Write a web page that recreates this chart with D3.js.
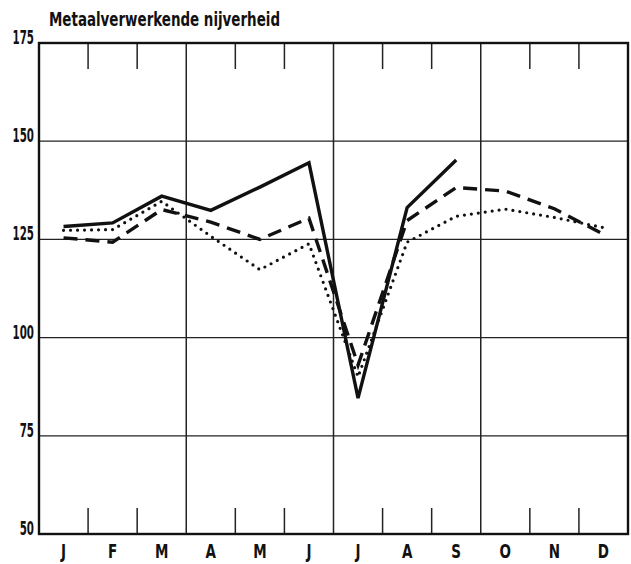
<!DOCTYPE html>
<html>
<head>
<meta charset="utf-8">
<script src="https://cdn.jsdelivr.net/npm/d3@7"></script>
<style>
  body { margin: 0; background: #fff; }
  text { font-family: "DejaVu Sans Condensed", "DejaVu Sans", sans-serif; font-weight: bold; fill: #111; }
</style>
</head>
<body>
<div id="chart"></div>
<script>
// data

var months = ["J", "F", "M", "A", "M", "J", "J", "A", "S", "O", "N", "D"];
var yTicks = [50, 75, 100, 125, 150, 175];
var title = "Metaalverwerkende nijverheid";

var solidSeries  = [128.3, 129.2, 136.0, 132.4, 138.3, 144.5, 84.6, 133.1, 145.2, null, null, null];
var dashedSeries = [125.4, 124.3, 132.6, 129.4, 125.0, 130.4, 93.0, 129.8, 138.2, 137.3, 132.8, 126.3];
var dottedSeries = [127.3, 127.5, 134.7, 125.8, 117.3, 123.9, 90.0, 124.3, 130.9, 132.7, 130.6, 128.0];

// dimensions

var width = 631;
var height = 564;
var margin = { top: 43, right: 3, bottom: 30, left: 39 };

var svg = d3.select("#chart")
    .append("svg")
    .attr("width", width)
    .attr("height", height);

var innerW = width - margin.left - margin.right;
var innerH = height - margin.top - margin.bottom;

var g = svg.append("g")
    .attr("transform", "translate(" + margin.left + "," + margin.top + ")");

var x = d3.scaleBand()
    .domain(d3.range(12))
    .range([0, innerW])
    .padding(0);

var y = d3.scaleLinear()
    .domain([50, 175])
    .range([innerH, 0]);

// horizontal grid lines
g.selectAll(".hgrid")
    .data(yTicks.slice(1, -1))
    .enter()
    .append("line")
    .attr("x1", 0)
    .attr("x2", innerW)
    .attr("y1", function (d) { return y(d); })
    .attr("y2", function (d) { return y(d); })
    .attr("stroke", "#222")
    .attr("stroke-width", 1.3);

// quarter lines (full height)
g.selectAll(".qline")
    .data([3, 6, 9])
    .enter()
    .append("line")
    .attr("x1", function (d) { return x(d); })
    .attr("x2", function (d) { return x(d); })
    .attr("y1", 0)
    .attr("y2", innerH)
    .attr("stroke", "#222")
    .attr("stroke-width", 1.5);

// short month ticks at top and bottom
var tickLen = 26;
var monthBounds = d3.range(1, 12).filter(function (d) { return d % 3 !== 0; });
g.selectAll(".ttop")
    .data(monthBounds)
    .enter()
    .append("line")
    .attr("x1", function (d) { return x(d); })
    .attr("x2", function (d) { return x(d); })
    .attr("y1", 0)
    .attr("y2", tickLen)
    .attr("stroke", "#222")
    .attr("stroke-width", 1.5);
g.selectAll(".tbot")
    .data(monthBounds)
    .enter()
    .append("line")
    .attr("x1", function (d) { return x(d); })
    .attr("x2", function (d) { return x(d); })
    .attr("y1", innerH - tickLen)
    .attr("y2", innerH)
    .attr("stroke", "#222")
    .attr("stroke-width", 1.5);

// frame
g.append("rect")
    .attr("x", 0)
    .attr("y", 0)
    .attr("width", innerW)
    .attr("height", innerH)
    .attr("fill", "none")
    .attr("stroke", "#111")
    .attr("stroke-width", 2.4);

// y labels (tall, narrow figures)
g.selectAll(".ylab")
    .data(yTicks)
    .enter()
    .append("text")
    .attr("transform", function (d) { return "translate(-5," + (y(d) + 1) + ") scale(0.6,1)"; })
    .attr("text-anchor", "end")
    .attr("font-size", 19)
    .text(function (d) { return d; });

// month labels
g.selectAll(".xlab")
    .data(months)
    .enter()
    .append("text")
    .attr("transform", function (d, i) {
        return "translate(" + (x(i) + x.bandwidth() / 2) + "," + (innerH + 24) + ") scale(0.75,1)";
    })
    .attr("text-anchor", "middle")
    .attr("font-size", 20)
    .text(function (d) { return d; });

// title
svg.append("text")
    .attr("x", 49)
    .attr("y", 26)
    .attr("font-size", 19)
    .attr("textLength", 231)
    .attr("lengthAdjust", "spacingAndGlyphs")
    .text(title);

// series
var line = d3.line()
    .defined(function (d) { return d !== null; })
    .x(function (d, i) { return x(i) + x.bandwidth() / 2; })
    .y(function (d) { return y(d); });

g.append("path")
    .datum(dottedSeries)
    .attr("d", line)
    .attr("fill", "none")
    .attr("stroke", "#111")
    .attr("stroke-width", 3.2)
    .attr("stroke-linecap", "round")
    .attr("stroke-dasharray", "0,7");

g.append("path")
    .datum(dashedSeries)
    .attr("d", line)
    .attr("fill", "none")
    .attr("stroke", "#111")
    .attr("stroke-width", 3.4)
    .attr("stroke-dasharray", "14,8");

g.append("path")
    .datum(solidSeries)
    .attr("d", line)
    .attr("fill", "none")
    .attr("stroke", "#111")
    .attr("stroke-width", 3.4)
    .attr("stroke-linejoin", "miter");
</script>
</body>
</html>
